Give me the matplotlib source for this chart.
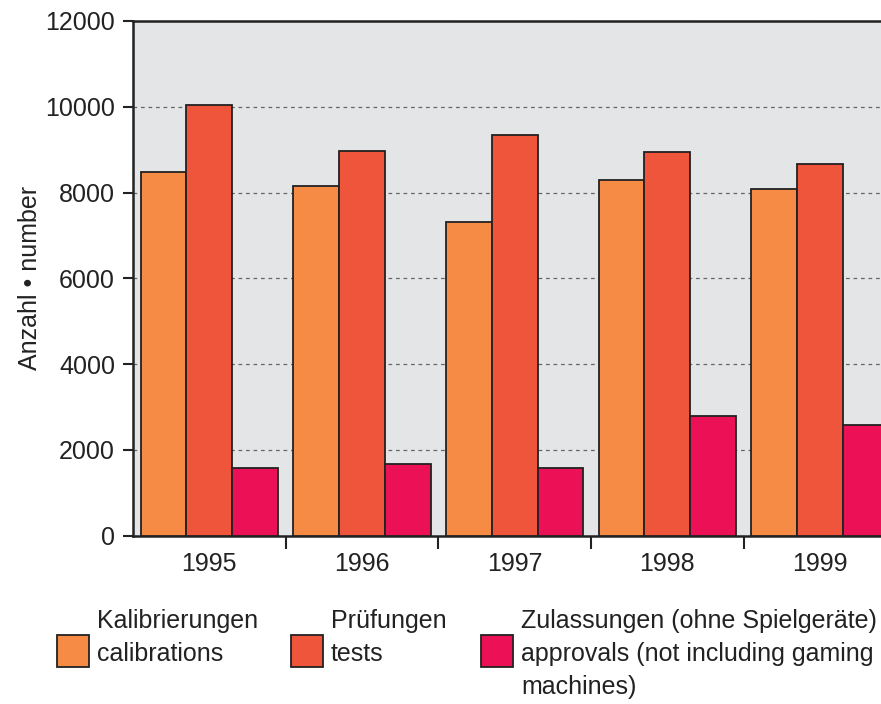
import matplotlib.pyplot as plt
from matplotlib.patches import Rectangle
from matplotlib.ticker import FixedLocator
import numpy as np

years = ["1995", "1996", "1997", "1998", "1999"]
kalibrierungen = [8470, 8150, 7310, 8290, 8070]
pruefungen = [10040, 8960, 9350, 8940, 8670]
zulassungen = [1580, 1660, 1580, 2790, 2580]

series_labels = [
    "Kalibrierungen\ncalibrations",
    "Prüfungen\ntests",
    "Zulassungen (ohne Spielgeräte)\napprovals (not including gaming\nmachines)",
]
colors = ["#F58B44", "#EF553B", "#EC1157"]

plt.rcParams['font.family'] = ['Liberation Sans', 'DejaVu Sans']
plt.rcParams['font.size'] = 18

fig = plt.figure(figsize=(8.81, 7.04), dpi=100)
ax = fig.add_axes([133 / 881, 1 - 535.5 / 704, 1 - 133 / 881, (535.5 - 21) / 704])
ax.set_facecolor("#E4E5E7")

x = np.arange(len(years))
w = 0.3
for i, (vals, col) in enumerate(zip([kalibrierungen, pruefungen, zulassungen], colors)):
    ax.bar(x + (i - 1) * w, vals, w, color=col, edgecolor="#222222", linewidth=1.3, zorder=3)

ax.set_xlim(-0.5, 4.4)
ax.set_ylim(0, 12000)
ax.set_yticks(range(0, 12001, 2000))
ax.yaxis.grid(True, linestyle=(0, (3, 3)), color="#666666", linewidth=0.9, zorder=0)
ax.set_axisbelow(True)

ax.set_xticks(x)
ax.set_xticklabels(years)
ax.xaxis.set_minor_locator(FixedLocator([0.5, 1.5, 2.5, 3.5]))
ax.tick_params(axis="x", which="major", length=0, pad=12)
ax.tick_params(axis="x", which="minor", length=9, width=1.5, color="#222222", direction="out")
ax.tick_params(axis="y", length=7, width=1.5, color="#222222", direction="out", pad=6,
               labelcolor="#222222")
ax.tick_params(axis="x", labelcolor="#222222")

for side in ["left", "top", "bottom"]:
    ax.spines[side].set_linewidth(1.8)
    ax.spines[side].set_color("#222222")
ax.spines["right"].set_visible(False)

ax.set_ylabel("Anzahl • number", color="#222222")
ax.yaxis.set_label_coords(-(133 - 42) / 748, 0.5)

# legend built by hand so text is top aligned
leg_x = [57, 291, 481]
for lx, lab, col in zip(leg_x, series_labels, colors):
    fig.add_artist(Rectangle((lx / 881, 1 - 667 / 704), 32 / 881, 32 / 704,
                             transform=fig.transFigure, facecolor=col,
                             edgecolor="#222222", linewidth=1.3))
    fig.text((lx + 40) / 881, 1 - 609 / 704, lab, va="top", ha="left",
             linespacing=1.48, color="#222222")

fig.savefig("out.png", dpi=100)
